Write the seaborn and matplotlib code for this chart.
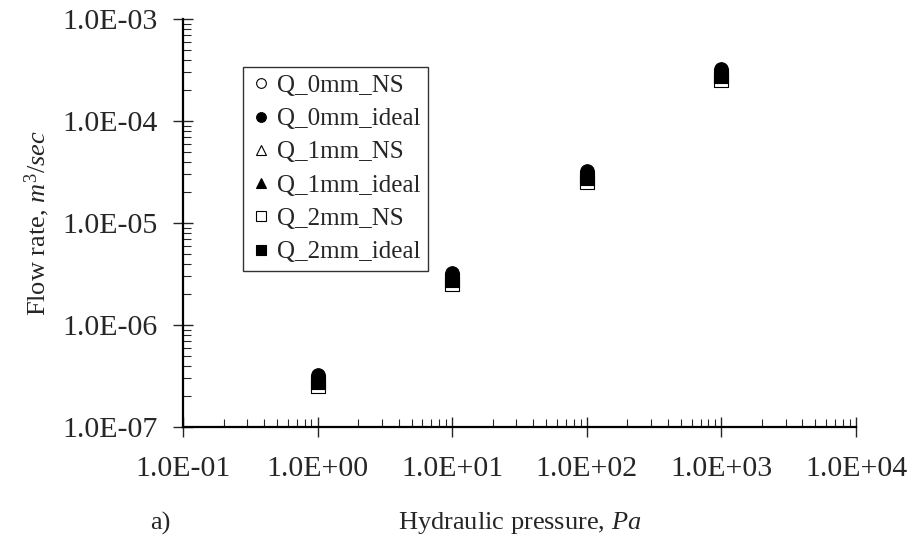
import matplotlib
matplotlib.use("Agg")
import matplotlib.pyplot as plt
import seaborn as sns
import numpy as np
import pandas as pd
from matplotlib.ticker import LogLocator, FixedLocator, NullFormatter

pressure = [1.0, 10.0, 100.0, 1000.0]
q_0mm_ns = [3.1e-7, 3.1e-6, 3.1e-5, 3.1e-4]
q_0mm_ideal = [3.2e-7, 3.2e-6, 3.2e-5, 3.2e-4]
q_1mm_ns = [2.9e-7, 2.9e-6, 2.9e-5, 2.9e-4]
q_1mm_ideal = [3.0e-7, 3.0e-6, 3.0e-5, 3.0e-4]
q_2mm_ns = [2.55e-7, 2.55e-6, 2.55e-5, 2.55e-4]
q_2mm_ideal = [2.75e-7, 2.75e-6, 2.75e-5, 2.75e-4]

series_names = ["Q_0mm_NS", "Q_0mm_ideal", "Q_1mm_NS", "Q_1mm_ideal", "Q_2mm_NS", "Q_2mm_ideal"]
series_vals = [q_0mm_ns, q_0mm_ideal, q_1mm_ns, q_1mm_ideal, q_2mm_ns, q_2mm_ideal]
x_tick_labels = ["1.0E-01", "1.0E+00", "1.0E+01", "1.0E+02", "1.0E+03", "1.0E+04"]
y_tick_labels = ["1.0E-07", "1.0E-06", "1.0E-05", "1.0E-04", "1.0E-03"]
markers = ["o", "o", "^", "^", "s", "s"]
faces = ["white", "black", "white", "black", "white", "black"]

sns.set_style("ticks")
plt.rcParams["font.family"] = ["Liberation Serif", "DejaVu Serif"]
plt.rcParams["mathtext.fontset"] = "custom"
plt.rcParams["mathtext.rm"] = "Liberation Serif"
plt.rcParams["mathtext.it"] = "Liberation Serif:italic"

fig = plt.figure(figsize=(9.12, 5.44), dpi=100)
ax = fig.add_axes([183/912, 1 - 427/544, (856-183)/912, (427-19)/544])

rows = []
for name, vals in zip(series_names, series_vals):
    for p, v in zip(pressure, vals):
        rows.append({"pressure": p, "q": v, "series": name})
df = pd.DataFrame(rows)

handles = []
for name, m, fc in zip(series_names, markers, faces):
    sub = df[df["series"] == name]
    sns.scatterplot(data=sub, x="pressure", y="q", marker=m, s=95,
                    color=fc, edgecolor="black", linewidth=0.8, ax=ax, legend=False, zorder=3)
    handles.append(plt.Line2D([], [], linestyle="none", marker=m, markersize=7,
                              markerfacecolor=fc, markeredgecolor="black", markeredgewidth=0.8))

ax.set_xscale("log")
ax.set_yscale("log")
ax.set_xlim(0.1, 1e4)
ax.set_ylim(1e-7, 1e-3)

xt = [0.1, 1, 10, 100, 1000, 10000]
ax.xaxis.set_major_locator(FixedLocator(xt))
ax.set_xticklabels(x_tick_labels)
yt = [1e-7, 1e-6, 1e-5, 1e-4, 1e-3]
ax.yaxis.set_major_locator(FixedLocator(yt))
ax.set_yticklabels(y_tick_labels)
ax.xaxis.set_minor_locator(LogLocator(base=10, subs=np.arange(2, 10), numticks=20))
ax.yaxis.set_minor_locator(LogLocator(base=10, subs=np.arange(2, 10), numticks=20))
ax.xaxis.set_minor_formatter(NullFormatter())
ax.yaxis.set_minor_formatter(NullFormatter())

ax.tick_params(which="major", direction="inout", length=14, width=1.0, labelsize=21.5, pad=14)
ax.tick_params(axis="y", which="major", pad=11)
ax.tick_params(which="minor", direction="in", length=6, width=0.8)
for s in ["top", "right"]:
    ax.spines[s].set_visible(False)
for s in ["left", "bottom"]:
    ax.spines[s].set_linewidth(1.6)
    ax.spines[s].set_color("black")

ax.set_xlabel("Hydraulic pressure, $\\it{Pa}$", fontsize=19, labelpad=20)
ax.set_ylabel("Flow rate, $\\it{m^3/sec}$", fontsize=19, labelpad=8)
fig.text(160/912, 1 - 523/544, "a)", fontsize=19, ha="center", va="center")

leg = ax.legend(handles, series_names, loc="upper left",
                bbox_to_anchor=((243-183)/(856-183), (427-67)/(427-19)),
                fontsize=18, frameon=True, fancybox=False, edgecolor="black", handletextpad=0.25,
                handlelength=0.8, borderpad=0.3, labelspacing=0.43, borderaxespad=0)
leg.get_frame().set_linewidth(1.0)

fig.savefig("out.png", dpi=100, facecolor="white")
